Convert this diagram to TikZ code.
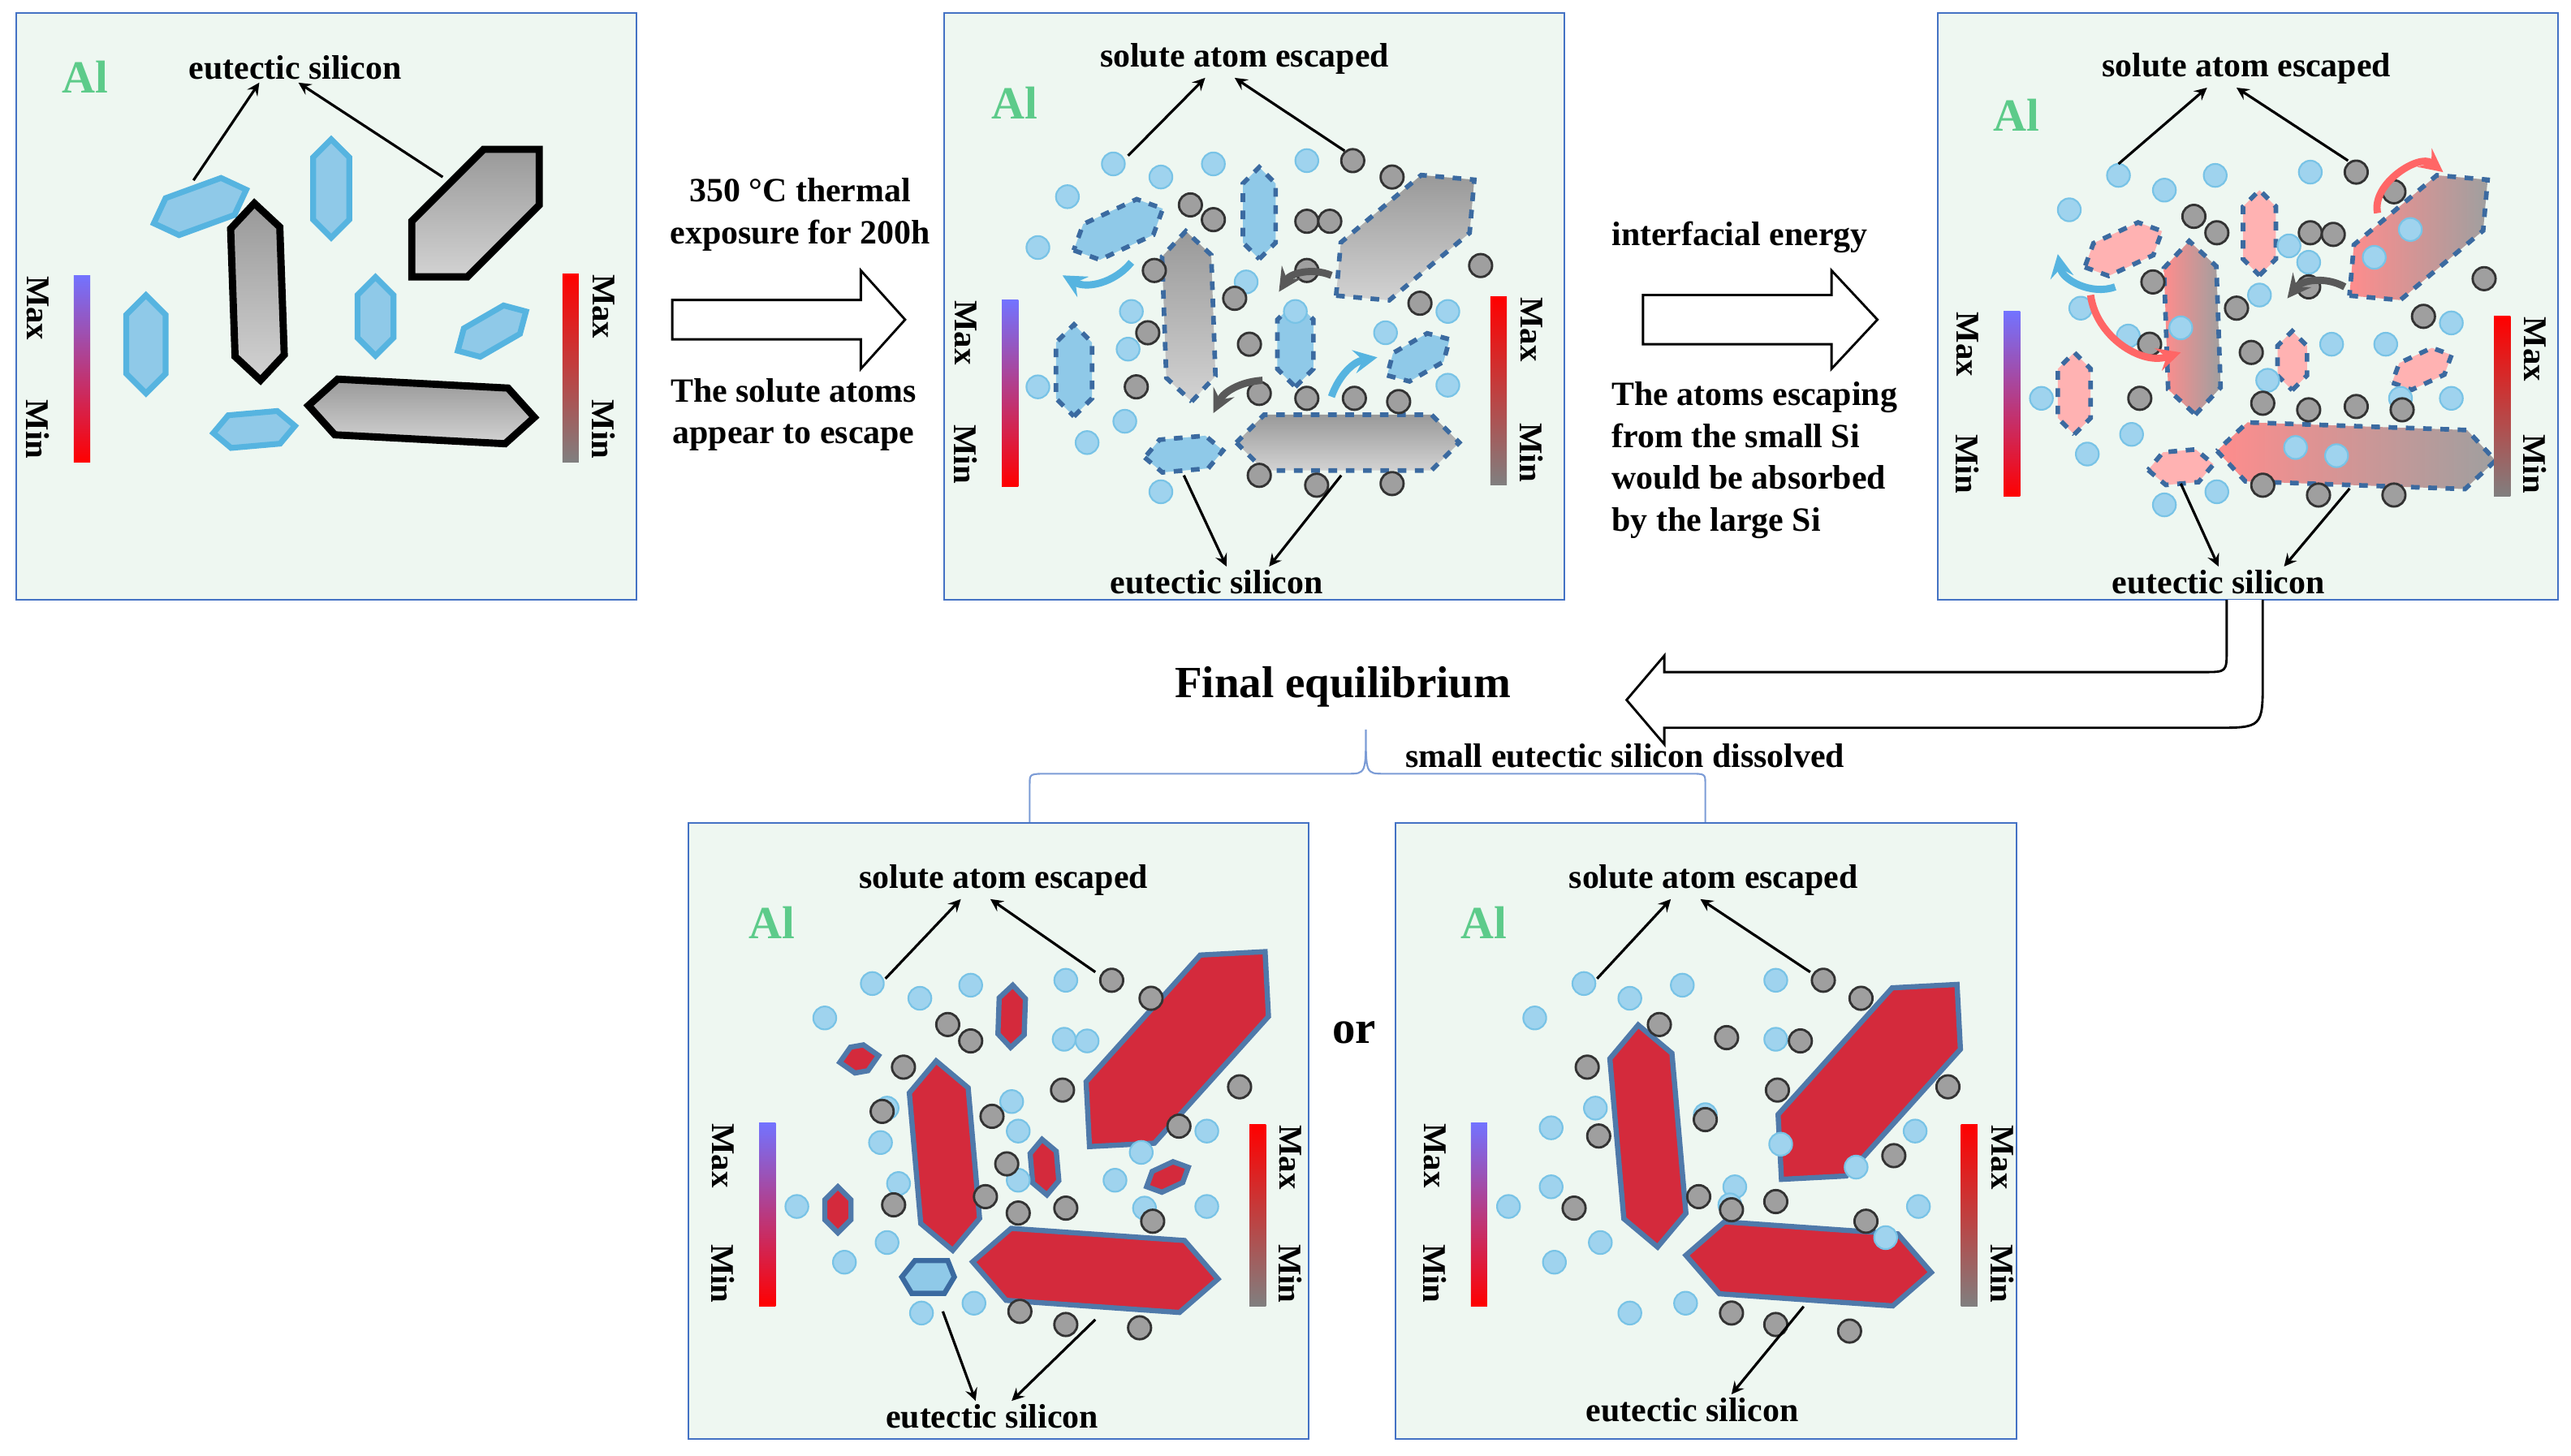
\documentclass[tikz,border=0pt]{standalone}
\usepackage{fontspec}
\setmainfont{Liberation Serif}
\usetikzlibrary{calc}
\definecolor{panelbg}{HTML}{EEF7F1}
\definecolor{panelline}{HTML}{4472C4}
\definecolor{sibl}{HTML}{8FC9E8}
\definecolor{sibldraw}{HTML}{56B4E0}
\definecolor{dashblue}{HTML}{3B6AA0}
\definecolor{sired}{HTML}{D42A3C}
\definecolor{alg}{HTML}{5DCB8A}
\definecolor{dotbl}{HTML}{9FD3EE}
\tikzset{
  panel/.style={fill=panelbg,draw=panelline,line width=0.6pt},
  lbl/.style={font=\fontsize{11.8}{13.5}\selectfont\bfseries,inner sep=1pt},
  altext/.style={font=\fontsize{16}{18}\selectfont\bfseries,text=alg},
  barlbl/.style={font=\fontsize{11.5}{13}\selectfont\bfseries,rotate=-90},
  pt/.style={-stealth,line width=0.9pt},
  bluesi/.style={fill=sibl,draw=sibldraw,line width=2pt},
  graysi/.style={top color=gray!80,bottom color=gray!35,draw=black,line width=2.5pt},
  dashsi/.style={fill=sibl,draw=dashblue,line width=1.6pt,dashed},
  dgraysi/.style={top color=gray!80,bottom color=gray!35,draw=dashblue,line width=1.6pt,dashed},
  dpinksi/.style={left color=red!45,right color=gray!75,draw=dashblue,line width=1.6pt,dashed},
  dpinkbl/.style={fill=red!30,draw=dashblue,line width=1.6pt,dashed},
  redsi/.style={fill=sired,draw=dashblue!90,line width=1.8pt},
  bdot/.style={fill=dotbl,draw=sibldraw!80,line width=0.6pt},
  gdot/.style={fill=gray!75,draw=black!80,line width=0.8pt},
  hollow/.style={fill=white,draw=black,line width=0.8pt}
}
% elongated hexagon: style, x, y, half length, half width, angle
\newcommand{\hexa}[6]{\draw[#1,shift={(#2,#3)},rotate=#6] (-#4,0)--({-#4+#5},#5)--({#4-#5},#5)--(#4,0)--({#4-#5},-#5)--({-#4+#5},-#5)--cycle;}
% colour bars: x, top y, bottom y
\newcommand{\leftbar}[3]{\shade[top color=blue!55!white,bottom color=red] (#1,#2) rectangle ({#1+10},#3);
  \node[barlbl] at ({#1-22},{#2+20}) {Max}; \node[barlbl] at ({#1-22},{#3-20}) {Min};}
\newcommand{\rightbar}[3]{\shade[top color=red,bottom color=gray] (#1,#2) rectangle ({#1+10},#3);
  \node[barlbl] at ({#1+25},{#2+20}) {Max}; \node[barlbl] at ({#1+25},{#3-20}) {Min};}
\begin{document}
\begin{tikzpicture}[x=0.02cm,y=-0.02cm]
\useasboundingbox (0,0) rectangle (1568,888);

% ---- panel 1
\draw[panel] (10,8) rectangle (388,366);
\node[altext] (al1) at (52,47) {Al};
\node[lbl] (es1) at (180,41) {eutectic silicon};
\hexa{bluesi}{122}{126}{30}{12}{20}
\hexa{bluesi}{202}{115}{30}{11}{90}
\hexa{bluesi}{89}{210}{30}{12}{90}
\hexa{bluesi}{229}{193}{24}{11}{90}
\hexa{bluesi}{300}{202}{24}{10}{30}
\hexa{bluesi}{155}{262}{25}{10}{5}
\hexa{graysi}{290}{130}{55}{24}{45}
\hexa{graysi}{157}{178}{54}{15}{92}
\hexa{graysi}{257}{251}{69}{17}{-3}
\draw[pt] (118,110) -- ($(es1.south west)+(45,0)$);
\draw[pt] (270,108) -- ($(es1.south)+(2,0)$);
\leftbar{45}{168}{282}
\rightbar{343}{167}{282}

% ---- arrow 1
\draw[hollow] (410,183)--(525,183)--(525,165)--(552,195)--(525,225)--(525,207)--(410,207)--cycle;
\node[lbl,align=center] (t1) at (488,131) {350 °C thermal\\[1pt]exposure for 200h};
\node[lbl,align=center] (t2) at (484,253) {The solute atoms\\[1pt]appear to escape};

% ---- panel 2
\draw[panel] (576,8) rectangle (954,366);
\node[altext] (al2) at (619,63) {Al};
\node[lbl] (sa2) at (759,36) {solute atom escaped};
\node[lbl] (es2) at (742,355) {eutectic silicon};
\hexa{dashsi}{682}{140}{30}{12}{25}
\hexa{dashsi}{768}{130}{28}{10}{90}
\hexa{dashsi}{655}{226}{28}{11}{90}
\hexa{dashsi}{790}{210}{26}{11}{90}
\hexa{dashsi}{865}{218}{22}{10}{30}
\hexa{dashsi}{722}{277}{24}{10}{5}
\hexa{dgraysi}{857}{145}{55}{23}{40}
\hexa{dgraysi}{725}{193}{52}{15}{92}
\hexa{dgraysi}{822}{270}{68}{17}{0}
\foreach \p in {(679,100),(708,108),(740,100),(797,98),(651,120),(633,151),(690,190),(688,213),(686,257),(663,270),(633,236),(708,300),(760,172),(883,190),(883,235),(845,203),(790,190)}
  \draw[bdot] \p circle (7);
\foreach \p in {(825,98),(849,108),(726,125),(740,134),(797,135),(811,135),(704,165),(797,165),(753,182),(866,185),(903,162),(700,203),(762,210),(693,236),(768,240),(797,243),(826,243),(853,245),(768,290),(803,296),(849,295)}
  \draw[gdot] \p circle (7);
\draw[-stealth,line width=2.5pt,sibldraw] (690,160) to[bend left=40] (648,168);
\draw[-stealth,line width=2.5pt,gray!70!black] (812,168) to[bend right=40] (780,178);
\draw[-stealth,line width=2.5pt,gray!70!black] (770,232) to[bend right=30] (740,252);
\draw[-stealth,line width=2.5pt,sibldraw] (812,242) to[bend left=30] (840,218);
\draw[pt] (688,95) -- ($(sa2.south)+(-24,0)$);
\draw[pt] (820,92) -- ($(sa2.south)+(-6,0)$);
\draw[pt] (722,290) -- ($(es2.north)+(6,0)$);
\draw[pt] (818,290) -- ($(es2.north)+(32,0)$);
\leftbar{611}{183}{297}
\rightbar{909}{181}{296}

% ---- arrow 2
\draw[hollow] (1002,180)--(1117,180)--(1117,165)--(1145,195)--(1117,225)--(1117,210)--(1002,210)--cycle;
\node[lbl] (t3) at (1061,145) {interfacial energy};
\node[lbl,align=left,anchor=north west] (t4) at (981,231) {The atoms escaping\\[1pt]from the small Si\\[1pt]would be absorbed\\[1pt]by the large Si};

% ---- panel 3
\draw[panel] (1182,8) rectangle (1560,366);
\node[altext] (al3) at (1230,70) {Al};
\node[lbl] (sa3) at (1370,42) {solute atom escaped};
\node[lbl] (es3) at (1353,355) {eutectic silicon};
\hexa{dpinkbl}{1295}{152}{26}{11}{25}
\hexa{dpinkbl}{1378}{142}{26}{10}{90}
\hexa{dpinkbl}{1265}{240}{25}{10}{90}
\hexa{dpinkbl}{1398}{220}{18}{9}{90}
\hexa{dpinkbl}{1477}{225}{20}{9}{25}
\hexa{dpinkbl}{1330}{285}{20}{10}{5}
\hexa{dpinksi}{1475}{145}{55}{22}{40}
\hexa{dpinksi}{1337}{200}{53}{16}{92}
\hexa{dpinksi}{1437}{278}{85}{18}{-2}
\foreach \p in {(1292,107),(1320,116),(1351,107),(1409,105),(1262,128),(1269,188),(1298,205),(1330,200),(1245,243),(1273,277),(1300,265),(1320,308),(1352,300),(1396,150),(1408,160),(1422,210),(1455,210),(1495,197),(1495,243),(1464,243),(1383,232),(1378,180),(1400,273),(1425,278),(1448,157),(1470,140)}
  \draw[bdot] \p circle (7);
\foreach \p in {(1437,105),(1460,117),(1338,132),(1352,142),(1409,142),(1423,143),(1313,172),(1408,175),(1364,188),(1478,193),(1515,170),(1311,210),(1373,215),(1305,243),(1380,246),(1408,250),(1437,248),(1465,250),(1380,296),(1414,302),(1460,302)}
  \draw[gdot] \p circle (7);
\draw[-stealth,line width=2.5pt,red!60] (1450,130) to[bend left=70] (1490,105);
\draw[-stealth,line width=2.5pt,sibldraw] (1290,175) to[bend left=50] (1255,155);
\draw[-stealth,line width=2.5pt,red!60] (1275,180) to[bend right=50] (1330,215);
\draw[-stealth,line width=2.5pt,gray!70!black] (1430,175) to[bend right=40] (1395,182);
\draw[pt] (1292,100) -- ($(sa3.south)+(-24,0)$);
\draw[pt] (1432,98) -- ($(sa3.south)+(-6,0)$);
\draw[pt] (1330,295) -- ($(es3.north)+(0,0)$);
\draw[pt] (1433,298) -- ($(es3.north)+(40,0)$);
\leftbar{1222}{190}{303}
\rightbar{1521}{193}{303}

% ---- return arrow
\draw[hollow] (1358,366) -- (1358,396) .. controls (1358,410) .. (1344,410) -- (1015,410) -- (1015,400)
  -- (992,427) -- (1015,454) -- (1015,444) -- (1350,444) .. controls (1380,444) .. (1380,414) -- (1380,366);
\node[font=\fontsize{15.5}{17}\selectfont\bfseries] (fe) at (819,419) {Final equilibrium};
\node[lbl] (sd) at (991,461) {small eutectic silicon dissolved};
\draw[panelline!70,line width=0.6pt] (628,502)--(628,478) .. controls (628,472) .. (640,472) -- (822,472)
  .. controls (833,472) .. (833,445) .. controls (833,472) .. (844,472) -- (1030,472) .. controls (1040,472) .. (1040,478) -- (1040,502);
\node[font=\fontsize{16}{18}\selectfont\bfseries] (or) at (826,630) {or};

% ---- panel 4
\draw[panel] (420,502) rectangle (798,878);
\node[altext] (al4) at (471,563) {Al};
\node[lbl] (sa4) at (612,537) {solute atom escaped};
\node[lbl] (es4) at (605,864) {eutectic silicon};
\hexa{redsi}{718}{640}{80}{28}{48}
\hexa{redsi}{576}{705}{58}{18}{95}
\hexa{redsi}{668}{775}{75}{22}{-4}
\hexa{redsi}{617}{620}{19}{8}{88}
\hexa{redsi}{524}{646}{12}{8}{10}
\hexa{redsi}{637}{712}{17}{8}{95}
\hexa{redsi}{511}{738}{14}{8}{90}
\hexa{redsi}{712}{718}{14}{7}{25}
\draw[fill=sibl,draw=dashblue,line width=1.8pt,shift={(566,779)}] (-16,0)--(-8,-10)--(12,-10)--(16,0)--(10,10)--(-10,10)--cycle;
\foreach \p in {(532,600),(561,609),(592,601),(650,598),(503,621),(541,676),(537,697),(548,722),(486,736),(515,770),(541,758),(562,801),(594,795),(617,672),(649,634),(663,635),(696,703),(680,720),(736,690),(736,736),(698,737),(621,720),(621,690)}
  \draw[bdot] \p circle (7);
\foreach \p in {(678,598),(702,609),(578,625),(592,635),(551,651),(648,665),(538,678),(605,681),(719,687),(756,663),(614,710),(545,735),(601,730),(621,740),(650,737),(703,745),(622,800),(650,808),(695,810)}
  \draw[gdot] \p circle (7);
\draw[pt] (540,597) -- ($(sa4.south)+(-26,0)$);
\draw[pt] (668,593) -- ($(sa4.south)+(-8,0)$);
\draw[pt] (575,800) -- ($(es4.north)+(-10,0)$);
\draw[pt] (668,805) -- ($(es4.north)+(12,0)$);
\leftbar{463}{685}{797}
\rightbar{762}{686}{797}

% ---- panel 5
\draw[panel] (851,502) rectangle (1230,878);
\node[altext] (al5) at (905,563) {Al};
\node[lbl] (sa5) at (1045,537) {solute atom escaped};
\node[lbl] (es5) at (1032,860) {eutectic silicon};
\hexa{redsi}{1140}{660}{80}{28}{48}
\hexa{redsi}{1005}{693}{68}{19}{95}
\hexa{redsi}{1103}{771}{75}{22}{-4}
\foreach \p in {(966,600),(994,609),(1026,601),(1083,598),(936,621),(973,676),(946,688),(946,724),(920,736),(948,770),(976,758),(994,801),(1028,795),(1040,680),(1058,724),(1083,634),(1086,698),(1132,712),(1168,690),(1170,736),(1150,755),(1055,735)}
  \draw[bdot] \p circle (7);
\foreach \p in {(1112,598),(1135,609),(1012,625),(1053,633),(968,651),(1098,635),(1084,665),(1040,683),(975,693),(960,737),(1036,730),(1056,738),(1083,733),(1155,705),(1138,745),(1188,663),(1056,801),(1083,808),(1128,812)}
  \draw[gdot] \p circle (7);
\draw[pt] (974,597) -- ($(sa5.south)+(-26,0)$);
\draw[pt] (1104,593) -- ($(sa5.south)+(-8,0)$);
\draw[pt] (1100,797) -- ($(es5.north)+(24,0)$);
\leftbar{897}{685}{797}
\rightbar{1196}{686}{797}
\end{tikzpicture}
\end{document}
